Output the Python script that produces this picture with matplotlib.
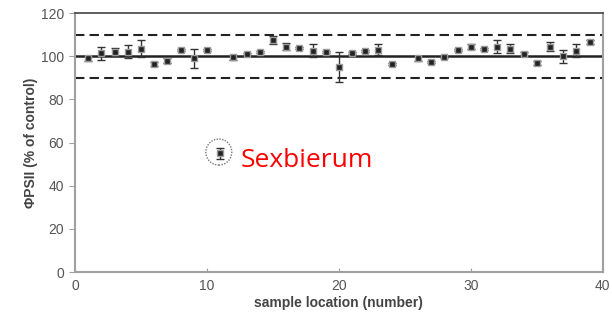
import numpy as np
import matplotlib.pyplot as plt
from matplotlib.patches import Ellipse

# sample locations and PSII yield (% of control)
locs = [1, 2, 3, 4, 5, 6, 7, 8, 9, 10, 12, 13, 14, 15, 16, 17, 18, 19, 20,
        21, 22, 23, 24, 26, 27, 28, 29, 30, 31, 32, 33, 34, 35, 36, 37, 38, 39]
vals = [99, 101.5, 102, 102, 103.5, 96.5, 98, 103, 99, 103, 99.5, 101, 102,
        107.5, 104.5, 104, 102.5, 102, 95, 101.5, 102.5, 103, 96.5, 99, 97.5,
        99.5, 103, 104.5, 103.5, 104.5, 103.5, 101, 97, 104.5, 100, 102.5, 106.5]
errs = [1, 3, 2, 3, 4, 1, 1, 0.5, 4.5, 0.5, 1, 0.5, 0.5, 2, 1.5, 0.5, 3, 0.5,
        7, 0.5, 0.5, 2.5, 0.5, 1, 0.5, 0.5, 0.5, 1, 0.5, 3, 2, 1, 1, 2, 3, 3, 1]

# the outlier
out_x = [11]
out_y = [55]
out_err = [2.5]

control = 100
band = [90, 110]

plt.rcParams['font.family'] = ['Liberation Sans', 'DejaVu Sans']
fig = plt.figure(figsize=(6.12, 3.2), dpi=100)
ax = fig.add_axes([0.1225, 0.15, 0.8625, 0.809])

ax.axhline(control, color='#222222', lw=1.8, zorder=1)
for b in band:
    ax.axhline(b, color='#222222', lw=1.5, ls=(0, (4.5, 2.5)), zorder=1)

ax.errorbar(locs, vals, yerr=errs, fmt='s', ms=5, mfc='#222222', mec='#9a9a9a',
            mew=1, ecolor='#333333', elinewidth=1, capsize=3, zorder=3)
ax.errorbar(out_x, out_y, yerr=out_err, fmt='s', ms=5, mfc='#222222', mec='#9a9a9a',
            mew=1, ecolor='#333333', elinewidth=1, capsize=3, zorder=3)

# dotted circle around the outlier (circle in pixel space)
ell = Ellipse((out_x[0] - 0.1, out_y[0] + 0.6), width=26 / 13.2, height=26 / 2.158,
              fill=False, ec='#777777', lw=1, ls=(0, (1, 1)), zorder=2)
ax.add_patch(ell)
ax.text(12.55, 48.8, 'Sexbierum', color='#ff0000', fontsize=19,
        family=['Open Sans', 'DejaVu Sans'], va='baseline', ha='left')

ax.set_xlim(0, 40)
ax.set_ylim(0, 120)
ax.set_xticks([0, 10, 20, 30, 40])
ax.set_yticks([0, 20, 40, 60, 80, 100, 120])

for s in ['left', 'bottom', 'right']:
    ax.spines[s].set_color('#a0a0a0')
    ax.spines[s].set_linewidth(1.5)
ax.spines['top'].set_color('#444444')
ax.spines['top'].set_linewidth(1.2)

ax.tick_params(axis='y', direction='out', length=4, color='#a0a0a0',
               labelcolor='#555555', labelsize=10, pad=4)
ax.tick_params(axis='x', direction='in', length=3, color='#a0a0a0',
               labelcolor='#555555', labelsize=10, pad=5)

ax.set_xlabel('sample location (number)', fontsize=10, fontweight='bold',
              color='#444444', labelpad=2)
ax.set_ylabel('ΦPSII (% of control)', fontsize=10, fontweight='bold',
              color='#444444', labelpad=2)

fig.savefig('out.png', dpi=100)
